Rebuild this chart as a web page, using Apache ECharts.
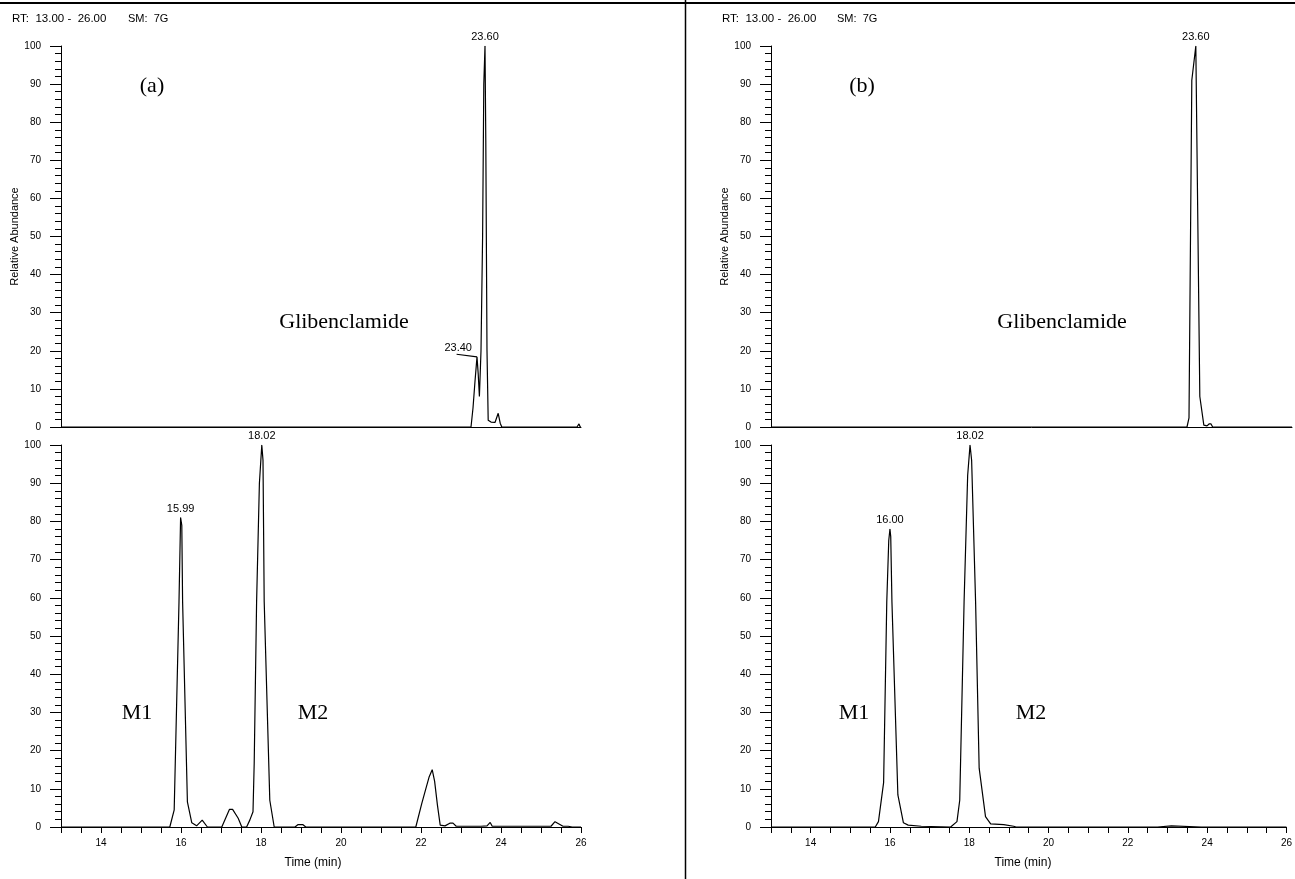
<!DOCTYPE html>
<html>
<head>
<meta charset="utf-8">
<script src="https://cdn.jsdelivr.net/npm/echarts@6/dist/echarts.min.js"></script>
<style>
html,body{margin:0;padding:0;background:#fff;}
#chart{width:1295px;height:879px;}
</style>
</head>
<body>
<div id="chart"></div>
<script>
// ---------- DATA ----------
// Panel (a) top trace: Glibenclamide
const aTopTime = [13.00, 23.25, 23.30, 23.35, 23.40, 23.43, 23.46, 23.50, 23.54, 23.57, 23.60, 23.62, 23.65, 23.68, 23.75, 23.85, 23.93, 23.98, 24.02, 25.90, 25.95, 25.98, 26.00];
const aTopVal  = [0,     0,     5,     12,    18.4,  14,    8,     20,    50,    90,    100,   75,    20,    1.8,   1.3,   1.2,   3.6,   1.0,   0,     0,     0.8,   0,     0];
// Panel (a) bottom trace: M1 / M2
const aBotTime = [13.00, 15.72, 15.83, 15.95, 15.99, 16.02, 16.04, 16.16, 16.27, 16.39, 16.53, 16.66, 17.02, 17.21, 17.29, 17.43, 17.52, 17.64, 17.72, 17.80, 17.83, 17.89, 17.96, 18.02, 18.05, 18.08, 18.22, 18.33, 18.85, 18.92, 19.05, 19.12, 21.87, 22.02, 22.12, 22.20, 22.28, 22.34, 22.41, 22.48, 22.60, 22.72, 22.80, 22.88, 23.38, 23.43, 23.50, 23.65, 23.73, 23.78, 25.25, 25.35, 25.45, 25.55, 25.68, 25.73, 25.78, 26.00];
const aBotVal  = [0,     0,     4.5,   59,    81,    79,    59,    6.6,   1.1,   0.3,   1.8,   0,     0,     4.6,   4.6,   2.3,   0,     0,     1.8,   4,     16.7,  59,    90,    100,   96,    59,    7,     0,     0,     0.6,   0.6,   0,     0,     6.2,   10,    13,    15,    12,    5.8,   0.5,   0.3,   1.0,   1.0,   0.2,   0.2,   0.5,   0.2,   0.3,   1.2,   0.2,   0.2,   1.4,   0.8,   0.2,   0.2,   0.5,   0,     0];
// Panel (b) top trace: Glibenclamide
const bTopTime = [13.00, 23.38, 23.43, 23.50, 23.60, 23.70, 23.80, 23.88, 23.93, 23.98, 24.02, 26.00];
const bTopVal  = [0,     0,     2.4,   91,    100,   8,     0.5,   0.3,   0.8,   0.8,   0,     0];
// Panel (b) bottom trace: M1 / M2
const bBotTime = [13.00, 15.63, 15.71, 15.84, 15.92, 15.97, 16.00, 16.02, 16.05, 16.20, 16.34, 16.46, 16.79, 16.84, 17.53, 17.69, 17.76, 17.87, 17.96, 18.02, 18.06, 18.16, 18.25, 18.41, 18.54, 18.87, 19.12, 19.18, 22.75, 22.80, 23.10, 23.15, 23.85, 23.90, 23.95, 24.18, 24.23, 24.28, 26.00];
const bBotVal  = [0,     0,     1.4,   11.6,  59,    75,    78,    76,    59,    8.4,   1.1,   0.5,   0.2,   0,     0,     1.4,   7,     59,    92,    100,   96,    59,    15.4,  2.7,   0.8,   0.6,   0.2,   0,     0,     0.3,   0.3,   0,     0,     0.3,   0,     0,     0.3,   0,     0];

// Peak labels: [time, value, text]
const aTopPeaks = [[23.60, 100, '23.60']];
const aTopLeaderLabel = [[22.93, 19.1, '23.40']];
const aTopLeader = [[22.89, 19.1], [23.40, 18.4]];
const aBotPeaks = [[15.99, 81, '15.99'], [18.02, 100, '18.02']];
const bTopPeaks = [[23.60, 100, '23.60']];
const bBotPeaks = [[16.00, 78, '16.00'], [18.02, 100, '18.02']];

// Axis settings / tick labels
const timeMin = 13, timeMax = 26, timeTickStep = 0.5;
const timeLabels = [14, 16, 18, 20, 22, 24, 26];
const abundMin = 0, abundMax = 100, abundStep = 10;

// ---------- CHART ----------
const zip = (t, v) => t.map((x, i) => [x, v[i]]);
const SANS = '"Liberation Sans", Arial, Helvetica, sans-serif';
const SERIF = '"Liberation Serif", "Times New Roman", serif';

const grids = [
  {left: 61,  top: 46,  width: 520, height: 381},
  {left: 61,  top: 445, width: 520, height: 382},
  {left: 771, top: 46,  width: 521, height: 381},
  {left: 771, top: 445, width: 521, height: 382}
];

function xAxisFor(i, bottom) {
  return {
    type: 'value', gridIndex: i, min: timeMin, max: timeMax, interval: timeTickStep,
    axisLine: {show: true, onZero: false, lineStyle: {color: '#000', width: 1}},
    axisTick: {show: bottom, length: 6, lineStyle: {color: '#000', width: 1}},
    axisLabel: {
      show: bottom, color: '#000', fontSize: 10, fontFamily: SANS, margin: 11,
      formatter: v => (timeLabels.indexOf(v) >= 0 ? String(v) : '')
    },
    splitLine: {show: false}
  };
}
function yAxisFor(i, top) {
  return {
    type: 'value', gridIndex: i, min: abundMin, max: abundMax, interval: abundStep,
    name: top ? 'Relative Abundance' : '',
    nameLocation: 'middle', nameGap: 38, nameRotate: 90,
    nameTextStyle: {color: '#000', fontSize: 11, fontFamily: SANS},
    axisLine: {show: true, lineStyle: {color: '#000', width: 1}},
    axisTick: {show: true, length: 11, lineStyle: {color: '#000', width: 1}},
    minorTick: {show: true, splitNumber: 5, length: 6, lineStyle: {color: '#000', width: 1}},
    axisLabel: {color: '#000', fontSize: 10, fontFamily: SANS, margin: 20},
    splitLine: {show: false}, minorSplitLine: {show: false}
  };
}

function traceSeries(i, t, v) {
  return {
    type: 'line', xAxisIndex: i, yAxisIndex: i, data: zip(t, v),
    showSymbol: false, symbol: 'none', silent: true,
    lineStyle: {color: '#000', width: 1.2}, z: 3
  };
}
function labelSeries(i, peaks, dist) {
  return {
    type: 'scatter', xAxisIndex: i, yAxisIndex: i,
    data: peaks.map(p => ({value: [p[0], p[1]], name: p[2]})),
    symbolSize: 0.5, itemStyle: {color: '#000', opacity: 1}, silent: true,
    label: {show: true, position: 'top', distance: dist, formatter: p => p.name,
            color: '#000', opacity: 1, fontSize: 11, fontFamily: SANS},
    z: 4
  };
}

const series = [
  traceSeries(0, aTopTime, aTopVal),
  traceSeries(1, aBotTime, aBotVal),
  traceSeries(2, bTopTime, bTopVal),
  traceSeries(3, bBotTime, bBotVal),
  labelSeries(0, aTopPeaks, 3),
  labelSeries(0, aTopLeaderLabel, 1),
  labelSeries(1, aBotPeaks, 3),
  labelSeries(2, bTopPeaks, 3),
  labelSeries(3, bBotPeaks, 3),
  {
    type: 'line', xAxisIndex: 0, yAxisIndex: 0, data: aTopLeader,
    showSymbol: false, symbol: 'none', silent: true,
    lineStyle: {color: '#000', width: 1.2}, z: 3
  }
];

const txt = (x, y, text, size, font, extra) => Object.assign({
  type: 'text', x: x, y: y, silent: true,
  style: {text: text, fill: '#000', fontSize: size, fontFamily: font, textAlign: 'center', textVerticalAlign: 'middle'}
}, extra || {});
const ltxt = (x, y, text, size) => ({
  type: 'text', x: x, y: y, silent: true,
  style: {text: text, fill: '#000', fontSize: size, fontFamily: SANS, textVerticalAlign: 'middle'}
});

const graphic = [
  {type: 'line', silent: true, shape: {x1: 0, y1: 3, x2: 1295, y2: 3}, style: {stroke: '#000', lineWidth: 2}},
  {type: 'line', silent: true, shape: {x1: 685.5, y1: 0, x2: 685.5, y2: 879}, style: {stroke: '#000', lineWidth: 1.5}},
  ltxt(12, 19, 'RT:  13.00 -  26.00', 11.5),
  ltxt(128, 19, 'SM:  7G', 11),
  ltxt(722, 19, 'RT:  13.00 -  26.00', 11.5),
  ltxt(837, 19, 'SM:  7G', 11),
  txt(152, 86, '(a)', 22, SERIF),
  txt(862, 86, '(b)', 22, SERIF),
  txt(344, 322, 'Glibenclamide', 22, SERIF),
  txt(1062, 322, 'Glibenclamide', 22, SERIF),
  txt(137, 713, 'M1', 22, SERIF),
  txt(313, 713, 'M2', 22, SERIF),
  txt(854, 713, 'M1', 22, SERIF),
  txt(1031, 713, 'M2', 22, SERIF),
  txt(313, 863, 'Time (min)', 12, SANS),
  txt(1023, 863, 'Time (min)', 12, SANS)
];

const chart = echarts.init(document.getElementById('chart'), null, {renderer: 'canvas'});
chart.setOption({
  animation: false,
  backgroundColor: '#fff',
  grid: grids,
  xAxis: [xAxisFor(0, false), xAxisFor(1, true), xAxisFor(2, false), xAxisFor(3, true)],
  yAxis: [yAxisFor(0, true), yAxisFor(1, false), yAxisFor(2, true), yAxisFor(3, false)],
  series: series,
  graphic: graphic
});
</script>
</body>
</html>
